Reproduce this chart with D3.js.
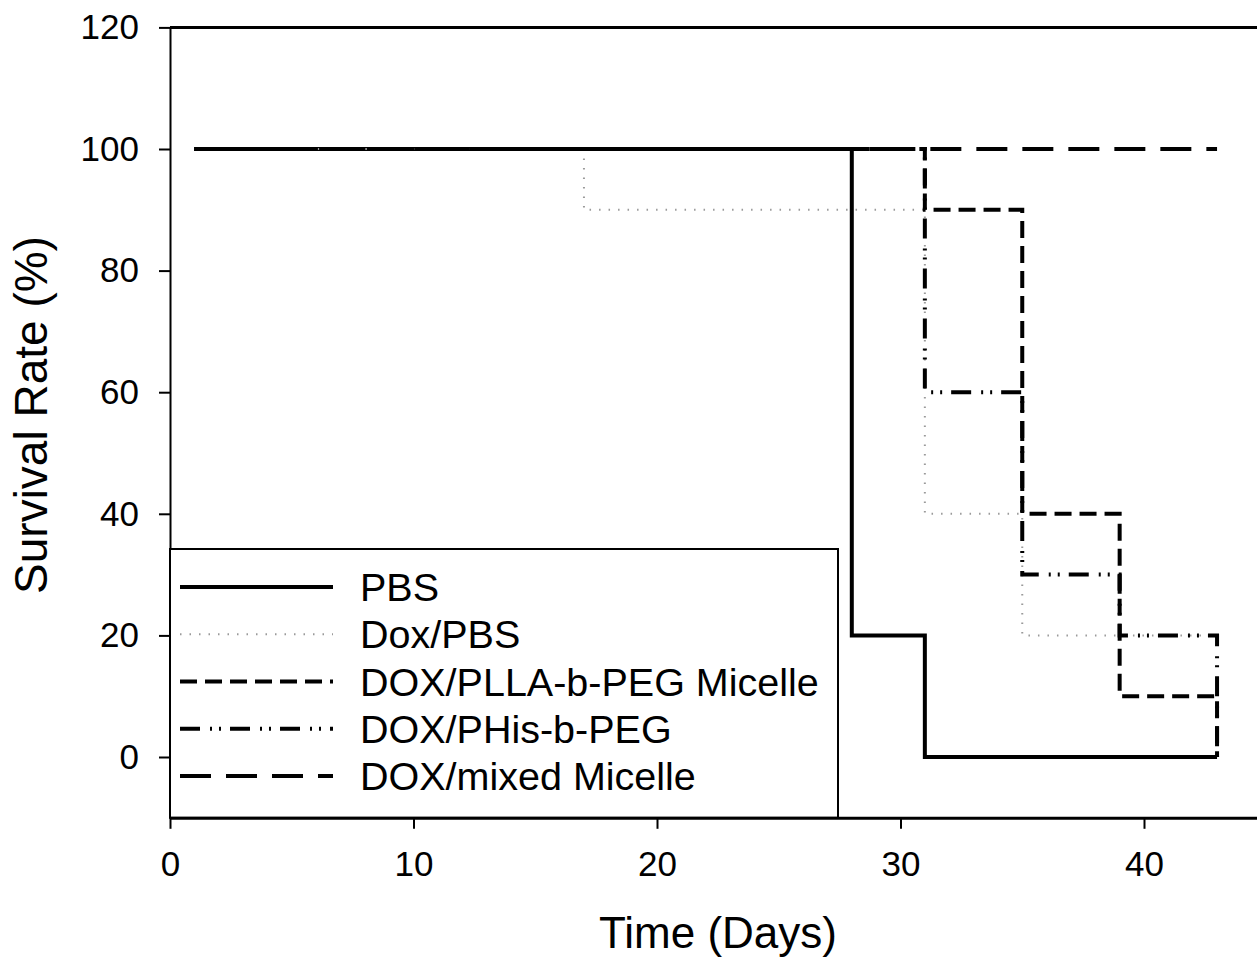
<!DOCTYPE html>
<html>
<head>
<meta charset="utf-8">
<script src="https://cdn.jsdelivr.net/npm/d3@7"></script>
<style>
  body { margin: 0; background: #fff; }
  svg { display: block; font-family: "Liberation Sans", Arial, sans-serif; }
</style>
</head>
<body>
<svg id="chart" width="1257" height="959"></svg>
<script>
// DATA (Kaplan-Meier change points: day, survival %)
const seriesNames = ["PBS", "Dox/PBS", "DOX/PLLA-b-PEG Micelle", "DOX/PHis-b-PEG", "DOX/mixed Micelle"];
const pbsDays = [1, 28, 31, 43];
const pbsSurv = [100, 20, 0, 0];
const doxPbsDays = [1, 17, 31, 35, 43];
const doxPbsSurv = [100, 90, 40, 20, 20];
const pllaDays = [1, 31, 35, 39, 43];
const pllaSurv = [100, 90, 40, 10, 0];
const phisDays = [1, 31, 35, 39, 43];
const phisSurv = [100, 60, 30, 20, 0];
const mixedDays = [1, 43];
const mixedSurv = [100, 100];
const xTicks = [0, 10, 20, 30, 40];
const yTicks = [0, 20, 40, 60, 80, 100, 120];

const zip = (xs, ys) => xs.map((x, i) => ({ x, y: ys[i] }));

const series = [
  { name: seriesNames[0], pts: zip(pbsDays, pbsSurv), color: "#000", w: 4, dash: null },
  { name: seriesNames[1], pts: zip(doxPbsDays, doxPbsSurv), color: "#9a9a9a", w: 2, dash: "1.5,8" },
  { name: seriesNames[2], pts: zip(pllaDays, pllaSurv), color: "#000", w: 4, dash: "17,8" },
  { name: seriesNames[3], pts: zip(phisDays, phisSurv), color: "#000", w: 4, dash: "20,10,2,7,2,9" },
  { name: seriesNames[4], pts: zip(mixedDays, mixedSurv), color: "#000", w: 4, dash: "31,15" },
];

// CANVAS SETUP
const svg = d3.select("#chart");
const x = d3.scaleLinear().domain([0, 45]).range([170, 170 + 45 * 24.35]);
const y = d3.scaleLinear().domain([-10, 120]).range([817.8, 27.4]);

// frame: left axis and top line
svg.append("line")
  .attr("x1", x(0)).attr("x2", 1257)
  .attr("y1", y(120)).attr("y2", y(120))
  .attr("stroke", "#000").attr("stroke-width", 3);

const gy = svg.append("g").attr("transform", `translate(${x(0)},0)`)
  .call(d3.axisLeft(y).tickValues(yTicks).tickSize(11).tickPadding(20).tickSizeOuter(0));
gy.select(".domain").attr("stroke-width", 2);
gy.selectAll(".tick line").attr("stroke-width", 2);
gy.selectAll(".tick text").attr("font-size", 35).attr("fill", "#000")
  .attr("font-family", "Liberation Sans, Arial, sans-serif");

// steps
const line = d3.line()
  .x((d) => x(d.x))
  .y((d) => y(d.y))
  .curve(d3.curveStepAfter);

const g = svg.append("g");
series.forEach((s) => {
  g.append("path")
    .datum(s.pts)
    .attr("d", line)
    .attr("fill", "none")
    .attr("stroke", s.color)
    .attr("stroke-width", s.w)
    .attr("stroke-dasharray", s.dash);
});

// legend
const legend = svg.append("g");
legend.append("rect")
  .attr("x", 170).attr("y", 549)
  .attr("width", 668).attr("height", y(-10) - 549)
  .attr("fill", "#fff").attr("stroke", "#000").attr("stroke-width", 2);

const rowY = d3.scalePoint().domain(seriesNames).range([587, 776]);
series.forEach((s) => {
  const yy = rowY(s.name);
  legend.append("line")
    .attr("x1", 180).attr("x2", 333)
    .attr("y1", yy).attr("y2", yy)
    .attr("stroke", s.color)
    .attr("stroke-width", s.w)
    .attr("stroke-dasharray", s.dash);
  legend.append("text")
    .attr("x", 360).attr("y", yy + 14)
    .attr("font-size", 39.5)
    .text(s.name);
});

// x axis on top of legend
const gx = svg.append("g").attr("transform", `translate(0,${y(-10)})`)
  .call(d3.axisBottom(x).tickValues(xTicks).tickSize(11).tickPadding(22).tickSizeOuter(0));
gx.select(".domain").attr("stroke-width", 3);
gx.selectAll(".tick line").attr("stroke-width", 2);
gx.selectAll(".tick text").attr("font-size", 35).attr("fill", "#000")
  .attr("font-family", "Liberation Sans, Arial, sans-serif");

// axis titles
svg.append("text")
  .attr("x", 718).attr("y", 948)
  .attr("text-anchor", "middle")
  .attr("font-size", 44)
  .text("Time (Days)");

svg.append("text")
  .attr("transform", "translate(47,415) rotate(-90)")
  .attr("text-anchor", "middle")
  .attr("font-size", 46)
  .text("Survival Rate (%)");
</script>
</body>
</html>
